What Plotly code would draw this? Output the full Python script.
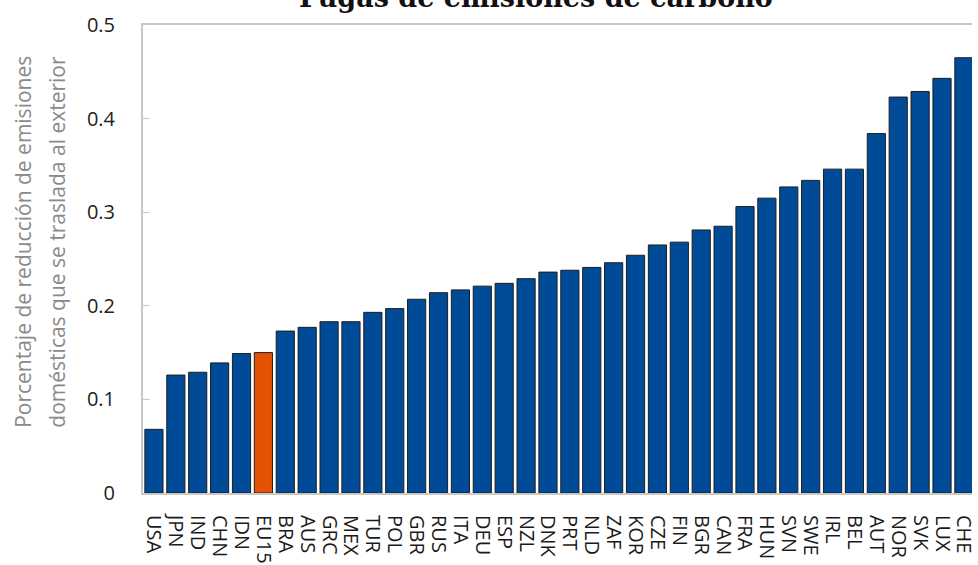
import plotly.graph_objects as go

countries = ["USA", "JPN", "IND", "CHN", "IDN", "EU15", "BRA", "AUS", "GRC", "MEX",
             "TUR", "POL", "GBR", "RUS", "ITA", "DEU", "ESP", "NZL", "DNK", "PRT",
             "NLD", "ZAF", "KOR", "CZE", "FIN", "BGR", "CAN", "FRA", "HUN", "SVN",
             "SWE", "IRL", "BEL", "AUT", "NOR", "SVK", "LUX", "CHE"]
values = [0.068, 0.126, 0.129, 0.139, 0.149, 0.150, 0.173, 0.177, 0.183, 0.183,
          0.193, 0.197, 0.207, 0.214, 0.217, 0.221, 0.224, 0.229, 0.236, 0.238,
          0.241, 0.246, 0.254, 0.265, 0.268, 0.281, 0.285, 0.306, 0.315, 0.327,
          0.334, 0.346, 0.346, 0.384, 0.423, 0.429, 0.443, 0.465]
highlight = "EU15"
y_ticks = [0, 0.1, 0.2, 0.3, 0.4, 0.5]
y_tick_labels = ["0", "0.1", "0.2", "0.3", "0.4", "0.5"]

title_text = "Fugas de emisiones de carbono"
ytitle_lines = ["Porcentaje de reducción de emisiones",
                "domésticas que se traslada al exterior"]

BLUE = "#004B97"
ORANGE = "#E35205"
colors = [ORANGE if c == highlight else BLUE for c in countries]

fig = go.Figure()
fig.add_trace(go.Bar(
    x=countries, y=values,
    marker=dict(color=colors, line=dict(color="#1E1E1E", width=1)),
    width=0.83,
))

W, H = 978, 565
ml, mr, mt, mb = 143, 0, 25, 72
plot_h = H - mt - mb
plot_w = W - ml - mr

fig.update_layout(
    width=W, height=H,
    margin=dict(l=ml, r=mr, t=mt, b=mb, pad=0),
    plot_bgcolor="white", paper_bgcolor="white",
    showlegend=False,
    font=dict(family="Open Sans", color="#222222"),
    xaxis=dict(
        type="category",
        range=[-0.5, 37.37],
        tickmode="array", tickvals=countries, ticktext=countries,
        tickangle=90,
        tickfont=dict(family="Open Sans", size=20, color="#1A1A1A"),
        showline=True, linecolor="#C8C8C8", linewidth=2, mirror=True,
        ticks="", showgrid=False,
        ticklabelstandoff=16,
    ),
    yaxis=dict(
        range=[0, 0.5],
        tickvals=y_ticks, ticktext=y_tick_labels,
        tickfont=dict(family="Open Sans", size=20, color="#222222"),
        showline=True, linecolor="#C8C8C8", linewidth=2,
        ticks="inside", ticklen=7, tickcolor="#C8C8C8", tickwidth=1,
        showgrid=False, zeroline=False,
        ticklabelstandoff=22,
    ),
)

# Title (partly cut off at top in the reference)
fig.add_annotation(
    text="<b>" + title_text + "</b>",
    xref="paper", yref="paper",
    x=(539 - ml) / plot_w, y=1 + (mt + 2) / plot_h,
    xanchor="center", yanchor="middle",
    showarrow=False,
    font=dict(family="DejaVu Serif", size=27, color="#111111"),
)

# Y-axis title as two separate rotated lines
for line, px in zip(ytitle_lines, [22, 56]):
    fig.add_annotation(
        text=line,
        xref="paper", yref="paper",
        x=(px - ml) / plot_w, y=(H - mb - 242) / plot_h,
        xanchor="center", yanchor="middle",
        textangle=-90, showarrow=False,
        font=dict(family="Open Sans", size=21, color="#8A8A8A"),
    )

fig.write_html("out.html", config={"displayModeBar": False},
               post_script="document.body.style.margin='0';")
